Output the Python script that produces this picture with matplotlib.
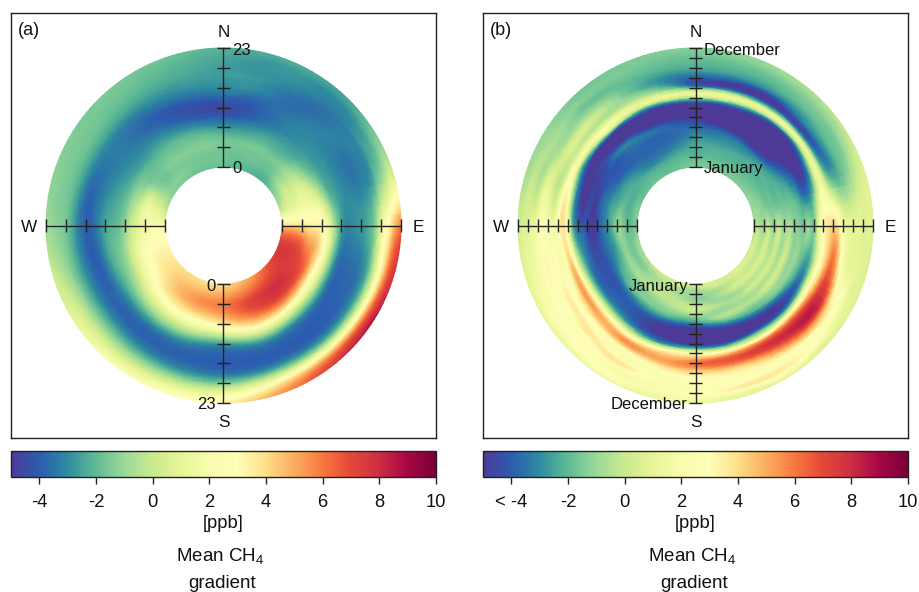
import numpy as np
import matplotlib
matplotlib.use("Agg")
import matplotlib.pyplot as plt
from matplotlib.colors import LinearSegmentedColormap, Normalize
from matplotlib.cm import ScalarMappable
from matplotlib.tri import Triangulation, UniformTriRefiner, CubicTriInterpolator

plt.rcParams['font.family'] = ['Liberation Sans', 'DejaVu Sans']
plt.rcParams['mathtext.fontset'] = 'custom'
plt.rcParams['mathtext.rm'] = 'Liberation Sans'
plt.rcParams['mathtext.default'] = 'rm'

directions = list(range(0, 360, 15))
hours = list(range(0, 25, 2))
months = [m / 2 for m in range(25)]
cbar_ticks = [-4, -2, 0, 2, 4, 6, 8, 10]
cbar_labels_a = ['-4', '-2', '0', '2', '4', '6', '8', '10']
cbar_labels_b = ['< -4', '-2', '0', '2', '4', '6', '8', '10']

# rows: wind direction clockwise from N; columns: hour of day
gradient_by_hour = [
 [-1.8,-1.7,-1.6,-1.8,-2.8,-3.9,-4.6,-3.8,-3.0,-2.7,-2.6,-2.4,-2.2],
 [-2.0,-1.8,-1.6,-1.8,-2.6,-3.6,-4.0,-3.8,-3.1,-2.8,-2.8,-2.7,-2.3],
 [-2.1,-1.8,-1.6,-1.8,-2.4,-3.0,-3.3,-3.4,-3.6,-3.5,-3.0,-2.8,-2.3],
 [-2.0,-1.5,-1.3,-1.6,-2.3,-2.7,-2.9,-3.1,-3.2,-3.4,-3.3,-3.0,-2.4],
 [-1.2,0.0,0.2,0.0,-1.3,-2.4,-2.8,-3.2,-3.4,-3.2,-2.8,-2.2,-1.4],
 [0.0,1.0,1.4,1.5,0.8,-1.5,-2.6,-3.0,-3.2,-2.9,-1.8,-0.2,0.8],
 [4.5,4.2,4.0,3.5,3.0,0.3,-2.5,-3.0,-2.7,-2.0,1.0,3.8,6.0],
 [7.4,7.2,6.8,5.6,4.0,0.5,-3.0,-3.6,-3.4,-2.6,0.8,5.0,7.6],
 [7.4,7.6,7.4,6.8,3.8,0.5,-3.0,-3.9,-3.8,-3.0,0.4,5.6,8.6],
 [6.6,7.2,7.9,7.4,4.8,1.0,-2.5,-3.9,-4.0,-3.3,0.2,5.6,8.0],
 [5.4,6.4,7.6,7.4,5.4,2.0,-1.8,-3.7,-4.0,-3.3,0.0,4.6,6.6],
 [4.6,5.6,6.8,6.6,5.0,2.2,-1.5,-3.6,-4.0,-3.4,-0.6,3.0,5.0],
 [4.0,5.0,6.0,5.4,3.8,0.8,-2.5,-3.8,-4.0,-3.4,-1.4,1.4,3.4],
 [3.8,4.8,5.6,4.8,3.0,0.5,-2.2,-3.6,-3.9,-3.2,-1.4,1.0,3.0],
 [4.0,4.6,5.0,4.2,2.5,0.2,-2.0,-3.6,-3.8,-3.0,-1.2,0.8,2.6],
 [3.8,4.2,4.0,3.2,1.5,-0.5,-2.4,-3.7,-3.7,-2.6,-1.0,0.7,2.0],
 [3.5,3.6,3.2,2.0,0.3,-1.4,-2.6,-3.7,-3.6,-2.5,-1.0,0.3,0.9],
 [3.0,3.0,2.6,1.4,-0.3,-1.6,-2.4,-3.7,-3.8,-2.7,-1.5,-0.6,0.0],
 [1.8,2.0,1.6,0.6,-1.0,-2.0,-2.4,-3.4,-3.9,-2.8,-1.6,-1.2,-0.9],
 [-0.3,0.8,1.4,-0.2,-1.5,-2.3,-2.8,-3.4,-3.7,-2.6,-1.7,-1.4,-1.2],
 [-1.2,-1.0,-1.1,-1.5,-2.0,-2.7,-3.1,-3.3,-3.2,-2.4,-1.7,-1.5,-1.4],
 [-1.5,-1.4,-1.5,-1.7,-2.2,-2.8,-3.3,-3.5,-3.3,-2.5,-1.9,-1.6,-1.5],
 [-1.7,-1.5,-1.4,-1.6,-2.1,-3.0,-3.8,-4.0,-3.3,-2.6,-2.1,-1.8,-1.6],
 [-1.8,-1.6,-1.4,-1.6,-2.4,-3.6,-4.4,-4.0,-3.1,-2.6,-2.3,-2.1,-1.8],
]

# rows: wind direction clockwise from N; columns: month, half-month steps
gradient_by_month = [
 [-1.6,-1.6,-2.0,-2.2,-2.2,-2.4,-2.7,-3.1,-3.6,-4.3,-5.2,-5.4,-5.0,-4.2,-0.5,1.3,-2.5,-4.6,-4.0,-2.9,-2.3,-2.0,-1.8,-1.5,-1.3],
 [-1.6,-1.6,-1.9,-2.1,-2.2,-2.5,-2.8,-3.2,-3.8,-5.0,-5.4,-5.4,-5.4,-4.6,-1.0,1.4,-1.5,-4.8,-4.4,-3.0,-2.3,-2.0,-1.7,-1.3,-1.2],
 [-1.5,-1.6,-1.9,-2.1,-2.2,-2.4,-2.8,-3.3,-4.6,-5.2,-5.4,-5.4,-5.4,-5.0,-2.8,1.2,-0.8,-4.8,-5.0,-3.2,-2.3,-1.9,-1.6,-1.1,-0.8],
 [-1.4,-1.5,-1.8,-2.0,-2.2,-2.2,-2.6,-3.6,-4.8,-5.2,-5.4,-5.4,-5.4,-5.0,-3.5,1.3,-1.0,-4.6,-3.6,-2.7,-2.1,-1.7,-1.4,-0.9,-0.4],
 [-1.2,-1.3,-1.6,-1.9,-2.0,-2.1,-2.2,-2.5,-3.0,-3.7,-4.4,-5.2,-5.2,-4.0,-1.0,1.4,-1.5,-3.6,-3.2,-2.3,-1.8,-1.6,-1.0,-0.4,0.2],
 [-1.0,-1.0,-1.2,-1.5,-1.6,-1.8,-1.7,-1.8,-1.8,-2.1,-2.8,-3.4,-3.0,-1.3,1.3,1.8,0.4,-0.8,-1.4,-1.4,-1.0,-0.4,0.2,0.6,0.8],
 [-0.7,-0.4,-0.8,-0.3,-1.0,-0.1,-1.0,-0.6,-1.2,-1.3,-1.6,-1.0,-1.5,0.8,2.8,3.8,4.2,3.6,1.8,1.2,1.0,1.0,0.8,0.8,0.7],
 [-0.2,0.2,-0.3,0.4,-0.6,0.2,-0.8,0.2,-0.9,-1.0,-1.4,-2.0,-2.3,-0.3,2.3,3.8,5.6,6.0,4.0,2.0,1.2,1.2,1.0,0.8,0.6],
 [0.4,0.4,0.0,0.6,-0.3,0.4,-0.5,0.3,-0.7,-1.0,-1.8,-3.0,-3.6,-1.0,2.5,4.8,7.0,7.9,7.2,4.8,3.2,2.8,1.5,1.0,0.7],
 [0.6,0.5,0.2,0.5,-0.3,0.3,-0.6,0.0,-0.8,-1.5,-3.0,-4.6,-4.8,-2.8,1.5,5.4,7.7,8.4,7.6,5.6,3.7,2.6,2.8,1.6,0.8],
 [0.4,0.2,-0.2,0.2,-0.8,-0.5,-0.8,-0.4,-1.2,-2.4,-4.2,-5.2,-5.0,-2.5,1.2,5.4,7.6,7.2,5.6,4.0,3.0,2.8,3.6,2.5,1.0],
 [0.4,0.2,-0.8,-0.8,-1.0,-0.4,-1.0,-0.5,-1.5,-3.6,-5.2,-5.4,-5.2,-3.0,1.5,5.2,6.8,6.0,4.2,3.2,3.0,2.6,3.6,2.0,1.0],
 [0.9,-0.5,-1.0,-1.2,-0.5,0.2,-0.5,-1.6,-3.0,-4.8,-5.4,-5.4,-5.0,-2.0,2.5,4.8,6.2,5.2,3.8,3.0,2.6,2.4,2.6,2.2,1.4],
 [0.8,-0.2,-0.8,-0.4,-0.2,-0.3,-1.0,-1.7,-3.2,-4.6,-5.2,-5.2,-4.4,-2.0,2.5,4.5,5.2,4.3,3.0,2.4,2.6,2.3,2.0,1.8,1.3],
 [0.4,-0.3,-0.5,-0.4,-0.3,-1.0,-1.3,-2.0,-3.2,-4.2,-4.4,-4.2,-3.3,-0.8,2.2,5.0,5.2,3.0,2.2,2.8,3.8,2.4,2.2,2.6,1.4],
 [0.0,-0.8,-1.0,-0.6,-0.8,-1.6,-1.6,-2.8,-3.8,-4.0,-3.8,-3.3,-1.5,1.5,4.0,5.0,3.8,2.8,3.4,3.6,2.6,2.8,3.0,2.2,1.4],
 [-0.6,-1.2,-1.5,-0.9,-1.4,-2.0,-2.8,-3.7,-4.2,-4.2,-3.9,-3.3,-1.0,2.0,5.0,4.6,3.0,3.2,3.4,2.6,3.0,2.4,2.2,1.8,1.2],
 [-0.8,-1.4,-1.6,-1.2,-1.6,-2.6,-3.2,-3.7,-4.2,-4.5,-4.0,-3.2,-2.0,0.5,3.8,3.6,2.0,2.8,2.4,3.2,2.6,1.8,1.6,1.2,0.8],
 [-1.5,-1.8,-1.9,-1.3,-1.0,-2.0,-2.8,-3.5,-4.3,-5.0,-4.4,-4.0,-3.6,-2.0,1.8,4.0,2.5,1.6,2.0,2.4,1.8,1.2,0.8,0.6,0.3],
 [-1.4,-1.7,-2.2,-1.9,-2.0,-2.4,-2.8,-3.4,-4.0,-4.8,-4.4,-5.2,-4.6,-3.0,0.5,3.2,1.6,-0.2,0.6,1.2,0.5,-0.5,0.0,-0.3,-0.6],
 [-1.8,-2.0,-2.2,-2.2,-2.4,-2.8,-3.6,-3.9,-4.2,-4.2,-4.6,-4.6,-5.2,-4.4,-1.5,2.0,0.6,0.2,0.6,-0.2,-0.8,-0.6,-0.6,-0.9,-1.0],
 [-1.6,-1.9,-2.1,-2.6,-3.0,-3.4,-3.8,-3.8,-3.8,-3.5,-3.3,-5.0,-5.2,-4.8,0.2,2.0,0.3,-0.3,0.4,-0.4,-1.2,-1.6,-1.3,-1.4,-1.5],
 [-1.8,-2.0,-2.2,-2.8,-3.3,-3.6,-3.8,-3.8,-3.7,-3.3,-4.2,-5.2,-5.4,-4.6,-1.2,1.4,0.2,-0.8,-1.2,-1.5,-1.8,-1.8,-1.5,-1.5,-1.6],
 [-1.7,-1.8,-2.0,-2.3,-2.8,-3.2,-3.6,-3.7,-3.7,-3.8,-4.6,-5.2,-5.2,-4.8,-1.2,1.3,-0.5,-2.0,-2.8,-2.6,-2.2,-1.9,-1.7,-1.5,-1.4],
]

cmap_levels = [-5, -4, -3, -2, -1, 0, 1, 2, 3, 4, 5, 6, 7, 8, 9, 10]
cmap_colors = ['#4d3a96', '#2c5cb0', '#2e8aa0', '#5fbb94', '#9ad898', '#c9ea8e',
               '#e6f596', '#f8fcac', '#feffb9', '#fee08b', '#fbb060', '#f87a40',
               '#e54a38', '#cf2f40', '#a80845', '#7e0038']
spectral = LinearSegmentedColormap.from_list(
    'spectral_ppb', [((v + 5) / 15, c) for v, c in zip(cmap_levels, cmap_colors)], N=256)
norm = Normalize(-5, 10)

W, H = 919, 592
INK = '#222222'
TXT = '#111111'
R_IN, R_OUT = 58.5, 177.5


def ax_px(fig, x0, y0, x1, y1):
    return fig.add_axes([x0 / W, 1 - y1 / H, (x1 - x0) / W, (y1 - y0) / H])


def ring(ax, values):
    z = np.array(values, float)
    z = np.vstack([z, z[:1]])
    n_t, n_r = z.shape
    tt, rr = np.meshgrid(np.arange(n_t, dtype=float), np.arange(n_r, dtype=float), indexing='ij')
    tri = Triangulation(tt.ravel(), rr.ravel())
    fine, zf = UniformTriRefiner(tri).refine_field(
        z.ravel(), triinterpolator=CubicTriInterpolator(tri, z.ravel(), kind='min_E'), subdiv=3)
    step_t = np.deg2rad(directions[1] - directions[0])
    r = R_IN + fine.y / (n_r - 1) * (R_OUT - R_IN)
    x = r * np.sin(fine.x * step_t)
    y = r * np.cos(fine.x * step_t)
    ax.tripcolor(x, y, fine.triangles, zf, shading='gouraud', cmap=spectral, norm=norm, zorder=1)


def cross(ax, n_ticks):
    rad = np.linspace(R_IN, R_OUT, n_ticks)
    for dx, dy in [(0, 1), (0, -1), (1, 0), (-1, 0)]:
        ax.plot([dx * R_IN, dx * R_OUT], [dy * R_IN, dy * R_OUT], color=INK, lw=1.0, zorder=3,
                solid_capstyle='butt')
        for q in rad:
            ax.plot([dx * q - dy * 6.3, dx * q + dy * 6.3], [dy * q - dx * 6.3, dy * q + dx * 6.3],
                    color=INK, lw=1.0, zorder=3, solid_capstyle='butt')


def panel(fig, x0, values, n_ticks, tag, labels, cbar_labels):
    ax = ax_px(fig, x0, 13, x0 + 425, 438)
    ax.set_xlim(-212.5, 212.5)
    ax.set_ylim(-212.5, 212.5)
    ax.set_xticks([])
    ax.set_yticks([])
    for s in ax.spines.values():
        s.set_linewidth(1.0)
        s.set_color(INK)
    ring(ax, values)
    cross(ax, n_ticks)
    fs = 12.3
    ax.text(-205.5, 195, tag, fontsize=13, ha='left', va='center', color=TXT)
    ax.text(0, 193.5, 'N', fontsize=fs, ha='center', va='center', color=TXT)
    ax.text(0, -197, 'S', fontsize=fs, ha='center', va='center', color=TXT)
    ax.text(-195, -1.5, 'W', fontsize=fs, ha='center', va='center', color=TXT)
    ax.text(195, -1.5, 'E', fontsize=fs, ha='center', va='center', color=TXT)
    for txt, px, py, ha in labels:
        ax.text(px, py, txt, fontsize=12, ha=ha, va='center', color=TXT)

    cax = ax_px(fig, x0, 450.5, x0 + 425, 476.5)
    cb = fig.colorbar(ScalarMappable(norm=norm, cmap=spectral), cax=cax, orientation='horizontal',
                      ticks=cbar_ticks, drawedges=False)
    cb.ax.set_xticklabels(cbar_labels, fontsize=13.2, color=TXT)
    cb.ax.tick_params(length=4.7, width=1.0, color=INK, pad=8)
    cb.outline.set_linewidth(1.0)
    cb.outline.set_edgecolor(INK)
    cb.solids.set_edgecolor('face')
    xc = (x0 + 212.5) / W
    fig.text(xc, 1 - 524 / H, '[ppb]', fontsize=13.2, ha='center', va='center', color=TXT)
    fig.text(xc - 3.5 / W, 1 - 556 / H, 'Mean CH$_4$', fontsize=13.5, ha='center', va='center', color=TXT)
    fig.text(xc - 1.5 / W, 1 - 584 / H, 'gradient', fontsize=13.5, ha='center', va='center', color=TXT)


fig = plt.figure(figsize=(W / 100, H / 100), dpi=100, facecolor='white')
panel(fig, 11, gradient_by_hour, 7, '(a)',
      [('23', 8.5, 175.5, 'left'), ('0', 8.5, 57.5, 'left'), ('0', -8, -61, 'right'), ('23', -8, -179, 'right')],
      cbar_labels_a)
panel(fig, 483, gradient_by_month, 13, '(b)',
      [('December', 8.5, 175.5, 'left'), ('January', 8.5, 57.5, 'left'),
       ('January', -7.5, -61, 'right'), ('December', -8, -179, 'right')],
      cbar_labels_b)
fig.savefig('out.png', dpi=100)
